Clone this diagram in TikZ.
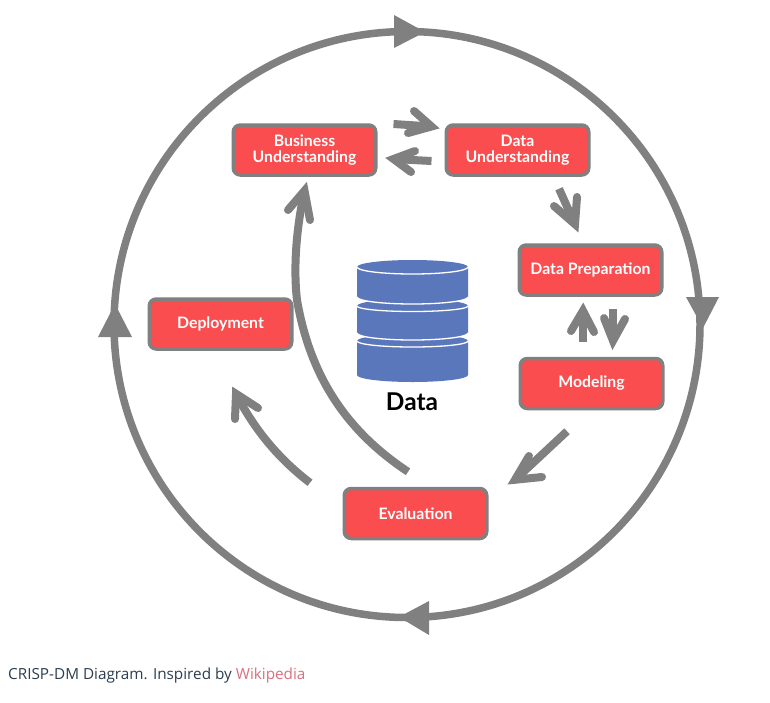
\documentclass[tikz,border=0pt]{standalone}
\usepackage{fontspec}
\setmainfont{Lato}
\newfontfamily\capfont{Open Sans}
\definecolor{ringgray}{HTML}{808080}
\definecolor{boxred}{HTML}{F94D4F}
\definecolor{dbblue}{HTML}{5B77BB}
\definecolor{captext}{HTML}{2C3E50}
\definecolor{caplink}{HTML}{D9707F}
\tikzset{
  stage/.style={draw=ringgray,line width=3.5pt,fill=boxred,rounded corners=7pt,minimum width=142.5pt,minimum height=50pt,inner sep=0pt,align=center,text=white,font=\fontsize{15.8}{16}\selectfont\bfseries},
  shaft/.style={draw=ringgray,line width=8pt,line cap=butt},
  barbs/.style={draw=ringgray,line width=8pt,line cap=round,line join=miter,miter limit=10},
  ringhead/.style={fill=ringgray,draw=none},
  section/.style={fill=dbblue,draw=none},
  rim/.style={draw=white,line width=1.3pt}
}
\begin{document}
\begin{tikzpicture}[x=1pt,y=-1pt]
\useasboundingbox[fill=white] (0,0) rectangle (770,702);
% ring
\coordinate (ringc) at (407,324.5);
\draw[ringgray,line width=7.5pt] (ringc) circle (293);
\path[ringhead] (425,32) -- (394,15) -- (394,48) -- cycle;
\path[ringhead] (703,328) -- (686,297) -- (719,297) -- cycle;
\path[ringhead] (399,617) -- (429,601) -- (429,635) -- cycle;
\path[ringhead] (115,304) -- (98,337) -- (132,337) -- cycle;
% stages
\node[stage] (bu) at (304.5,150) {Business\\Understanding};
\node[stage] (du) at (517.5,150) {Data\\Understanding};
\node[stage] (dp) at (590.5,270) {Data Preparation};
\node[stage] (mo) at (591.5,383.5) {Modeling};
\node[stage] (de) at (220.5,324) {Deployment};
\node[stage] (ev) at (415.5,513.5) {Evaluation};
% database
\path[section] (357,341) arc[start angle=180,end angle=360,x radius=55.5,y radius=7] -- (468,375) arc[start angle=0,end angle=180,x radius=55.5,y radius=7] -- cycle;
\path[section] (357,306) arc[start angle=180,end angle=360,x radius=55.5,y radius=7] -- (468,333) arc[start angle=0,end angle=180,x radius=55.5,y radius=7] -- cycle;
\draw[rim] (357,333) arc[start angle=180,end angle=360,x radius=55.5,y radius=-7];
\path[section] (357,267) arc[start angle=180,end angle=360,x radius=55.5,y radius=7] -- (468,297) arc[start angle=0,end angle=180,x radius=55.5,y radius=7] -- cycle;
\draw[rim] (357,297) arc[start angle=180,end angle=360,x radius=55.5,y radius=-7];
\draw[rim] (357,267) arc[start angle=180,end angle=360,x radius=55.5,y radius=-7];
\draw[rim] (357,306) arc[start angle=180,end angle=360,x radius=55.5,y radius=-5.5];
\draw[rim] (357,341) arc[start angle=180,end angle=360,x radius=55.5,y radius=-6];
\node[inner sep=0pt,font=\fontsize{24.5}{26}\selectfont\bfseries,text=black] (dl) at (412,402) {Data};
% connectors
\coordinate (a1s) at ([shift={(16,-26)}]bu.east);
\coordinate (a1t) at ([shift={(-13,-23.5)}]du.west);
\draw[shaft] (a1s) -- (a1t);
\draw[barbs] (414,111) -- (a1t) -- (408,133);
\coordinate (a2s) at ([shift={(-13,11)}]du.west);
\coordinate (a2t) at ([shift={(16,9)}]bu.east);
\draw[shaft] (a2s) -- (a2t);
\draw[barbs] (415,151) -- (a2t) -- (411,172);
\coordinate (a3s) at ([shift={(41.5,12)}]du.south);
\coordinate (a3t) at ([shift={(-15.5,-19)}]dp.north);
\draw[shaft] (a3s) -- (a3t);
\draw[barbs] (577,197) -- (a3t) -- (554,206);
\coordinate (a4s) at ([shift={(-8.5,-15)}]mo.north);
\coordinate (a4t) at ([shift={(-7.5,14)}]dp.south);
\draw[shaft] (a4s) -- (a4t);
\draw[barbs] (571,331) -- (a4t) -- (594,332);
\coordinate (a5s) at ([shift={(22.5,12)}]dp.south);
\coordinate (a5t) at ([shift={(21.5,-16)}]mo.north);
\draw[shaft] (a5s) -- (a5t);
\draw[barbs] (604,318) -- (a5t) -- (625,319);
\coordinate (a6s) at ([shift={(-24.5,21)}]mo.south);
\coordinate (a6t) at ([shift={(99.5,-7)}]ev.north);
\draw[shaft] (a6s) -- (a6t);
\draw[barbs] (529,456) -- (a6t) -- (542,477);
\coordinate (a7s) at ([shift={(-105.5,-4)}]ev.north);
\coordinate (a7t) at ([shift={(15.5,43)}]de.south);
\draw[shaft] (a7s) .. controls (275,456) and (252,425) .. (a7t);
\draw[barbs] (235,419) -- (a7t) -- (258,408);
\coordinate (a8s) at ([shift={(-7.5,-15)}]ev.north);
\coordinate (a8t) at ([shift={(0,14)}]bu.south);
\draw[shaft] (a8s) .. controls (345,430) and (310,375) .. (297,300) .. controls (293,265) and (297,225) .. (a8t);
\draw[barbs] (288,210) -- (a8t) -- (310,220);
% caption
\node[anchor=base west,inner sep=0pt,font=\capfont\fontsize{15.3}{18}\selectfont,text=captext] (cap) at (8,679) {CRISP-DM Diagram. Inspired by \textcolor{caplink}{Wikipedia}};
\end{tikzpicture}
\end{document}
